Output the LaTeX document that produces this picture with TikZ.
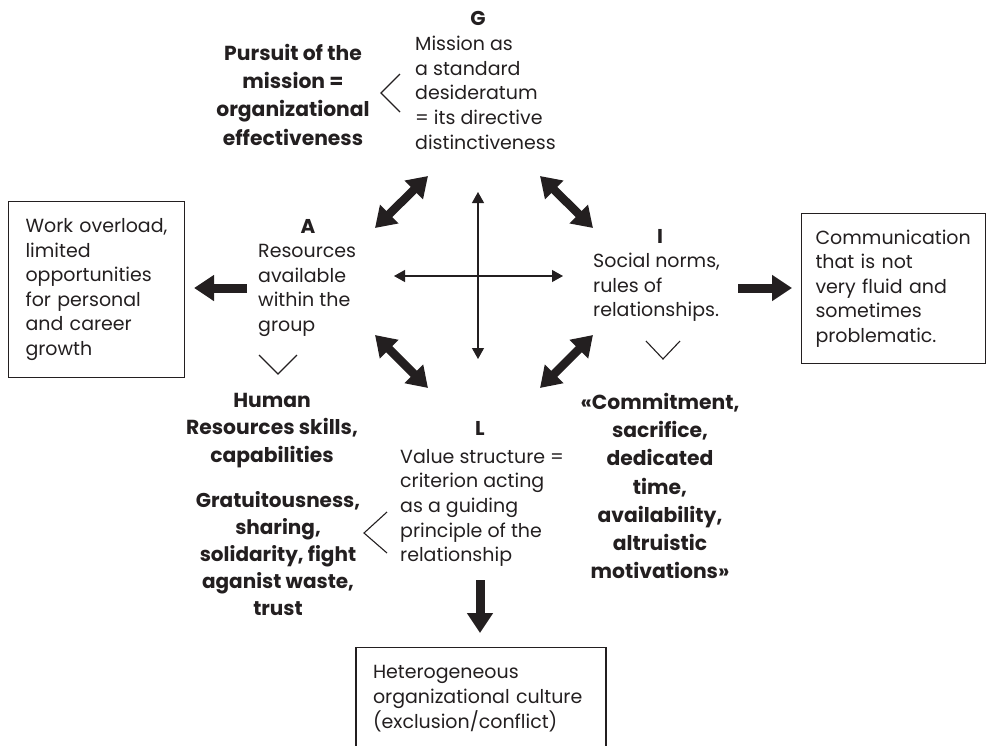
\documentclass[tikz,border=0pt]{standalone}
\usepackage{fontspec}
\setmainfont{Poppins}
\usetikzlibrary{arrows.meta}
\definecolor{ink}{RGB}{35,31,32}
\begin{document}
\begin{tikzpicture}[x=1pt,y=-1pt,
  every node/.style={text=ink},
  txt/.style={inner sep=0pt, align=left, font=\fontsize{19}{24.6}\selectfont, anchor=north west},
  btxt/.style={inner sep=0pt, align=center, font=\fontsize{20.3}{28.2}\selectfont\bfseries, anchor=north},
  lbl/.style={inner sep=0pt, font=\fontsize{20}{24}\selectfont\bfseries, anchor=base},
  box/.style={draw=ink, line width=1.1pt, align=left, anchor=north west, font=\fontsize{19}{24.6}\selectfont},
  big/.style={draw=ink, line width=9pt, -{Triangle[width=25pt,length=20pt]}},
  bigd/.style={draw=ink, line width=8.5pt, {Triangle[width=25pt,length=20pt]}-{Triangle[width=25pt,length=20pt]}},
  thinarr/.style={draw=ink, line width=1.2pt, {Triangle[width=12pt,length=11pt]}-{Triangle[width=12pt,length=11pt]}},
  chev/.style={draw=ink, line width=1.1pt}
]
\useasboundingbox (0,0) rectangle (986,745);

% G
\node[lbl] (G) at (478,25) {G};
\node[txt] (Gt) at (415,36) {Mission as\\a standard\\desideratum\\= its directive\\distinctiveness};
\node[btxt] (Gb) at (293,44) {Pursuit of the\\mission =\\organizational\\effectiveness};
\draw[chev] (400,74) -- (381,93) -- (400,112);

% A
\node[lbl] (A) at (308,233) {A};
\node[txt] (At) at (258,244) {Resources\\available\\within the\\group};
\draw[chev] (259,355) -- (278,374) -- (297,355);
\node[box, minimum width=176pt, minimum height=176pt, text width=142pt, inner xsep=17pt] (wbox) at (8,201)
  {Work overload,\\limited\\opportunities\\for personal\\and career\\growth};
\node[btxt, font=\fontsize{20.3}{27.5}\selectfont\bfseries] (Hb) at (272,393) {Human\\Resources skills,\\capabilities};

% I
\node[lbl] (I) at (660,243) {I};
\node[txt] (It) at (593,253) {Social norms,\\rules of\\relationships.};
\draw[chev] (646,341) -- (663,359) -- (680,341);
\node[box, minimum width=184pt, minimum height=150pt, text width=156pt, inner xsep=14pt] (cbox) at (801,213)
  {Communication\\that is not\\very fluid and\\sometimes\\problematic.};
\node[btxt] (Cb) at (660,393) {«Commitment,\\sacrifice,\\dedicated\\time,\\availability,\\altruistic\\motivations»};

% L
\node[lbl] (L) at (480,435) {L};
\node[txt] (Lt) at (400,449) {Value structure =\\criterion acting\\as a guiding\\principle of the\\relationship};
\draw[chev] (387,512) -- (364,533) -- (387,553);
\node[btxt, font=\fontsize{20}{27}\selectfont\bfseries] (Gr) at (278,491) {Gratuitousness,\\sharing,\\solidarity, fight\\aganist waste,\\trust};
\node[box, anchor=north, minimum width=250pt, text width=216pt, inner xsep=17pt, inner ysep=18pt] (hbox) at (481,647)
  {Heterogeneous\\organizational culture\\(exclusion/conflict)};

% connectors
\coordinate (a1) at (247,288);
\coordinate (i1) at (738,288);
\coordinate (l1) at (480,580);
\draw[big, shorten >=9pt] (a1) -- (wbox.east |- a1);
\draw[big, shorten >=9pt] (i1) -- (cbox.west |- i1);
\draw[big, shorten >=14pt] (l1) -- (hbox.north -| l1);

% cross
\coordinate (cN) at (478,192);
\coordinate (cS) at (478,359);
\coordinate (cW) at (394,276);
\coordinate (cE) at (563,276);
\draw[thinarr] (cN) -- (cS);
\draw[thinarr] (cW) -- (cE);

% diagonals
\coordinate (d1a) at (375,228); \coordinate (d1b) at (428,176);
\coordinate (d2a) at (540,176); \coordinate (d2b) at (593,228);
\coordinate (d3a) at (375,335); \coordinate (d3b) at (428,388);
\coordinate (d4a) at (540,388); \coordinate (d4b) at (593,335);
\draw[bigd] (d1a) -- (d1b);
\draw[bigd] (d2a) -- (d2b);
\draw[bigd] (d3a) -- (d3b);
\draw[bigd] (d4a) -- (d4b);
\end{tikzpicture}
\end{document}
